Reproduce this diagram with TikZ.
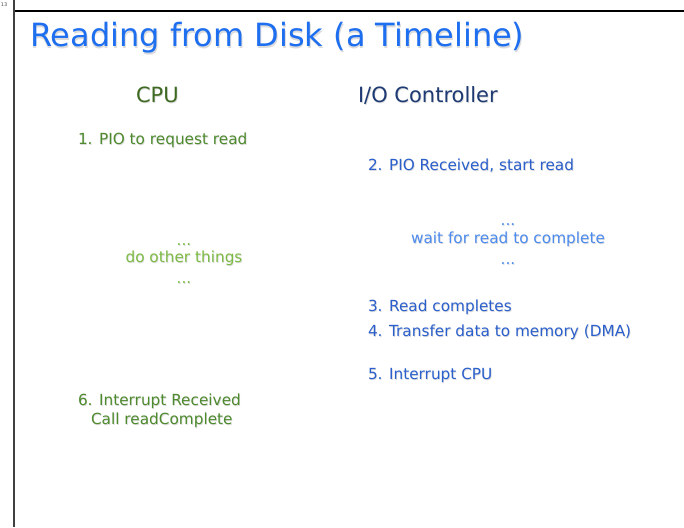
\documentclass[tikz,border=0pt]{standalone}
\usepackage{fontspec}
\setmainfont{DejaVu Sans}
\definecolor{titleblue}{HTML}{1E6FF0}
\definecolor{cpuhead}{HTML}{3F6A22}
\definecolor{iohead}{HTML}{1F3B73}
\definecolor{cpustep}{HTML}{4E8A2E}
\definecolor{cpuidle}{HTML}{7DBB45}
\definecolor{iostep}{HTML}{2A5FCC}
\definecolor{iowait}{HTML}{4C8BEE}
\tikzset{
  every node/.style={inner sep=0pt, outer sep=0pt},
  slidetitle/.style={anchor=base west, font=\fontsize{32}{32}\selectfont, text=titleblue},
  colhead/.style={anchor=base west, font=\fontsize{21}{21}\selectfont},
  stepitem/.style={anchor=base west, font=\fontsize{15.3}{15.3}\selectfont},
  waititem/.style={anchor=base, font=\fontsize{15.3}{15.3}\selectfont},
  dropshadow/.style={text=black, opacity=0.14, xshift=0.7pt, yshift=-1.3pt},
  pagenum/.style={anchor=base west, font=\fontsize{5}{5}\selectfont, text=black!70},
}
% text with a soft drop shadow: #1 name, #2 style, #3 position, #4 text
\newcommand\shadowedtext[4]{%
  \node[#2, dropshadow] (#1-sh) at #3 {#4};
  \node[#2] (#1) at #3 {#4};}
\begin{document}
\begin{tikzpicture}[x=1pt, y=-1pt]
  \useasboundingbox[fill=white] (0,0) rectangle (684,527);
  % page frame
  \draw[line width=2.2pt, black] (14,11) -- (684,11);
  \draw[line width=2pt, black!75] (14,0) -- (14,527);
  \node[pagenum] (pgnum) at (1,7) {13};

  % title and column heads
  \shadowedtext{title}{slidetitle}{(30,47)}{Reading from Disk (a Timeline)}
  \shadowedtext{cpu}{colhead, text=cpuhead}{(136,102)}{CPU}
  \shadowedtext{ioc}{colhead, text=iohead}{(358,102)}{I/O Controller}

  % CPU side
  \shadowedtext{s1}{stepitem, text=cpustep}{(78,144)}{1. PIO to request read}
  \shadowedtext{idleA}{waititem, text=cpuidle}{(184,245)}{...}
  \shadowedtext{idle}{waititem, text=cpuidle}{(184,262)}{do other things}
  \shadowedtext{idleB}{waititem, text=cpuidle}{(184,283)}{...}
  \shadowedtext{s6}{stepitem, text=cpustep}{(78,405)}{6. Interrupt Received}
  \shadowedtext{s6b}{stepitem, text=cpustep}{(91,424)}{Call readComplete}

  % I/O controller side
  \shadowedtext{s2}{stepitem, text=iostep}{(368,170)}{2. PIO Received, start read}
  \shadowedtext{waitA}{waititem, text=iowait}{(508,225)}{...}
  \shadowedtext{wait}{waititem, text=iowait}{(508,243)}{wait for read to complete}
  \shadowedtext{waitB}{waititem, text=iowait}{(508,264)}{...}
  \shadowedtext{s3}{stepitem, text=iostep}{(368,311)}{3. Read completes}
  \shadowedtext{s4}{stepitem, text=iostep}{(368,336)}{4. Transfer data to memory (DMA)}
  \shadowedtext{s5}{stepitem, text=iostep}{(368,379)}{5. Interrupt CPU}
\end{tikzpicture}
\end{document}
